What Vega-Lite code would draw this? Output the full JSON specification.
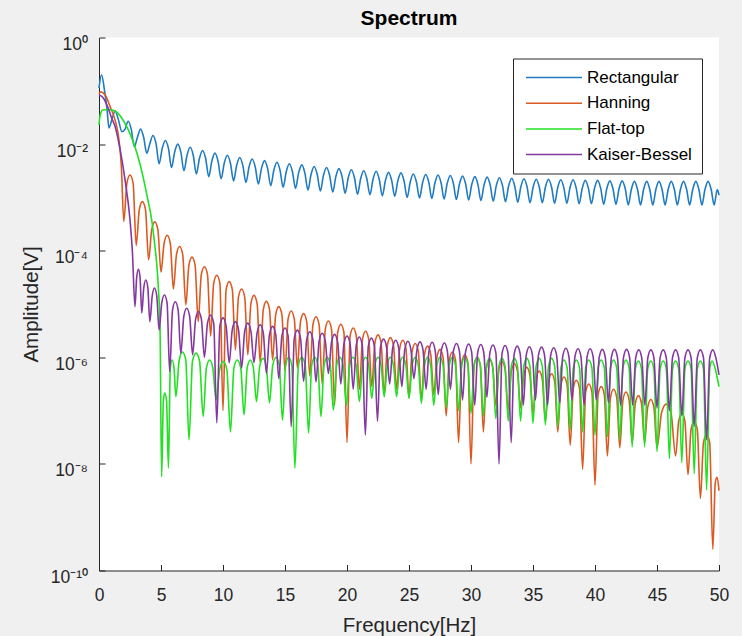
{
"$schema":"https://vega.github.io/schema/vega-lite/v6.json",
"width":620,"height":533,"autosize":"none",
"padding":{"left":99,"top":37.5,"right":23,"bottom":65.5},
"background":"#f0f0f0",
"config":{"font":"Liberation Sans","view":{"fill":"white","stroke":null}},
"title":{"text":"Spectrum","fontSize":21,"fontWeight":"bold","color":"#000000","offset":7},
"datasets":{
"R":[{"f":0,"a":0.112},{"f":0.2,"a":0.2},{"f":0.45,"a":0.1},{"f":0.65,"a":0.0447},{"f":0.8,"a":0.02},
{"f":1.05,"a":0.0295},{"f":1.3,"a":0.0417},{"f":1.55,"a":0.0295},{"f":1.85,"a":0.017},
{"f":2.1,"a":0.0191},{"f":2.35,"a":0.0269},{"f":2.6,"a":0.0191},{"f":2.85,"a":0.00891},
{"f":3.1,"a":0.0135},{"f":3.35,"a":0.0191},{"f":3.6,"a":0.0135},{"f":3.85,"a":0.00676},
{"f":4.1,"a":0.0102},{"f":4.35,"a":0.0145},{"f":4.6,"a":0.0102},{"f":4.85,"a":0.00427},
{"f":5.1,"a":0.00832},{"f":5.35,"a":0.0117},{"f":5.6,"a":0.00832},{"f":5.85,"a":0.00363},
{"f":6.1,"a":0.00708},{"f":6.35,"a":0.01},{"f":6.6,"a":0.00708},{"f":6.85,"a":0.00316},
{"f":7.1,"a":0.00617},{"f":7.35,"a":0.00871},{"f":7.6,"a":0.00617},{"f":7.85,"a":0.00275},
{"f":8.1,"a":0.00537},{"f":8.35,"a":0.00759},{"f":8.6,"a":0.00537},{"f":8.85,"a":0.00245},
{"f":9.1,"a":0.00479},{"f":9.35,"a":0.00676},{"f":9.6,"a":0.00479},{"f":9.85,"a":0.00224},
{"f":10.1,"a":0.00437},{"f":10.35,"a":0.00617},{"f":10.6,"a":0.00437},{"f":10.85,"a":0.00204},
{"f":11.1,"a":0.00398},{"f":11.35,"a":0.00562},{"f":11.6,"a":0.00398},{"f":11.85,"a":0.00191},
{"f":12.1,"a":0.00372},{"f":12.35,"a":0.00525},{"f":12.6,"a":0.00372},{"f":12.85,"a":0.00178},
{"f":13.1,"a":0.00347},{"f":13.35,"a":0.0049},{"f":13.6,"a":0.00347},{"f":13.85,"a":0.00166},
{"f":14.1,"a":0.00324},{"f":14.35,"a":0.00457},{"f":14.6,"a":0.00324},{"f":14.85,"a":0.00155},
{"f":15.1,"a":0.00302},{"f":15.35,"a":0.00427},{"f":15.6,"a":0.00302},{"f":15.85,"a":0.00148},
{"f":16.1,"a":0.00288},{"f":16.35,"a":0.00407},{"f":16.6,"a":0.00288},{"f":16.85,"a":0.00138},
{"f":17.1,"a":0.00269},{"f":17.35,"a":0.0038},{"f":17.6,"a":0.00269},{"f":17.85,"a":0.00132},
{"f":18.1,"a":0.00257},{"f":18.35,"a":0.00363},{"f":18.6,"a":0.00257},{"f":18.85,"a":0.00126},
{"f":19.1,"a":0.00245},{"f":19.35,"a":0.00347},{"f":19.6,"a":0.00245},{"f":19.85,"a":0.0012},
{"f":20.1,"a":0.00234},{"f":20.35,"a":0.00331},{"f":20.6,"a":0.00234},{"f":20.85,"a":0.00115},
{"f":21.1,"a":0.00224},{"f":21.35,"a":0.00316},{"f":21.6,"a":0.00224},{"f":21.85,"a":0.00112},
{"f":22.1,"a":0.00219},{"f":22.35,"a":0.00309},{"f":22.6,"a":0.00219},{"f":22.85,"a":0.00107},
{"f":23.1,"a":0.00209},{"f":23.35,"a":0.00295},{"f":23.6,"a":0.00209},{"f":23.85,"a":0.00105},
{"f":24.1,"a":0.00204},{"f":24.35,"a":0.00288},{"f":24.6,"a":0.00204},{"f":24.85,"a":0.001},
{"f":25.1,"a":0.00195},{"f":25.35,"a":0.00275},{"f":25.6,"a":0.00195},{"f":25.85,"a":0.000977},
{"f":26.1,"a":0.00191},{"f":26.35,"a":0.00269},{"f":26.6,"a":0.00191},{"f":26.84,"a":0.000955},
{"f":27.09,"a":0.00186},{"f":27.34,"a":0.00263},{"f":27.59,"a":0.00186},{"f":27.83,"a":0.000933},
{"f":28.08,"a":0.00182},{"f":28.33,"a":0.00257},{"f":28.58,"a":0.00182},{"f":28.82,"a":0.000912},
{"f":29.07,"a":0.00178},{"f":29.32,"a":0.00251},{"f":29.57,"a":0.00178},{"f":29.81,"a":0.000891},
{"f":30.06,"a":0.00174},{"f":30.31,"a":0.00245},{"f":30.56,"a":0.00174},{"f":30.8,"a":0.000871},
{"f":31.05,"a":0.0017},{"f":31.3,"a":0.0024},{"f":31.55,"a":0.0017},{"f":31.79,"a":0.000851},
{"f":32.04,"a":0.00166},{"f":32.29,"a":0.00234},{"f":32.54,"a":0.00166},{"f":32.78,"a":0.000832},
{"f":33.03,"a":0.00162},{"f":33.28,"a":0.00229},{"f":33.53,"a":0.00162},{"f":33.77,"a":0.000813},
{"f":34.02,"a":0.00158},{"f":34.27,"a":0.00224},{"f":34.52,"a":0.00158},{"f":34.76,"a":0.000794},
{"f":35.01,"a":0.00155},{"f":35.26,"a":0.00219},{"f":35.51,"a":0.00155},{"f":35.75,"a":0.000794},
{"f":36.0,"a":0.00155},{"f":36.25,"a":0.00219},{"f":36.5,"a":0.00155},{"f":36.74,"a":0.000776},
{"f":36.99,"a":0.00151},{"f":37.24,"a":0.00214},{"f":37.49,"a":0.00151},{"f":37.73,"a":0.000776},
{"f":37.98,"a":0.00151},{"f":38.23,"a":0.00214},{"f":38.48,"a":0.00151},{"f":38.72,"a":0.000759},
{"f":38.97,"a":0.00148},{"f":39.22,"a":0.00209},{"f":39.47,"a":0.00148},{"f":39.71,"a":0.000759},
{"f":39.96,"a":0.00148},{"f":40.21,"a":0.00209},{"f":40.46,"a":0.00148},{"f":40.7,"a":0.000741},
{"f":40.95,"a":0.00145},{"f":41.2,"a":0.00204},{"f":41.45,"a":0.00145},{"f":41.69,"a":0.000741},
{"f":41.94,"a":0.00145},{"f":42.19,"a":0.00204},{"f":42.44,"a":0.00145},{"f":42.68,"a":0.000724},
{"f":42.93,"a":0.00141},{"f":43.18,"a":0.002},{"f":43.43,"a":0.00141},{"f":43.67,"a":0.000724},
{"f":43.92,"a":0.00141},{"f":44.17,"a":0.002},{"f":44.42,"a":0.00141},{"f":44.66,"a":0.000724},
{"f":44.91,"a":0.00141},{"f":45.16,"a":0.002},{"f":45.41,"a":0.00141},{"f":45.65,"a":0.000724},
{"f":45.9,"a":0.00141},{"f":46.15,"a":0.002},{"f":46.4,"a":0.00141},{"f":46.64,"a":0.000724},
{"f":46.89,"a":0.00141},{"f":47.14,"a":0.002},{"f":47.39,"a":0.00141},{"f":47.63,"a":0.000724},
{"f":47.88,"a":0.00141},{"f":48.13,"a":0.002},{"f":48.38,"a":0.00141},{"f":48.62,"a":0.000724},
{"f":48.87,"a":0.00141},{"f":49.12,"a":0.002},{"f":49.37,"a":0.00141},{"f":49.61,"a":0.000724},
{"f":49.86,"a":0.00141},{"f":50,"a":0.0011}],
"H":[{"f":0,"a":0.089},{"f":0.15,"a":0.0955},{"f":0.5,"a":0.0832},{"f":0.9,"a":0.05},{"f":1.3,"a":0.0282},{"f":1.6,"a":0.0126},{"f":1.8,"a":0.00398},{"f":2,"a":3.55e-4},
{"f":2.25,"a":1.86e-3},{"f":2.5,"a":2.63e-3},{"f":2.75,"a":1.86e-3},{"f":3,"a":1.26e-4},
{"f":3.25,"a":5.89e-4},{"f":3.5,"a":8.32e-4},{"f":3.75,"a":5.89e-4},{"f":4,"a":6.76e-5},
{"f":4.25,"a":2.45e-4},{"f":4.5,"a":3.47e-4},{"f":4.75,"a":2.45e-4},{"f":5,"a":3.98e-5},
{"f":5.25,"a":1.38e-4},{"f":5.5,"a":1.95e-4},{"f":5.75,"a":1.38e-4},{"f":6,"a":1.91e-5},
{"f":6.25,"a":8.51e-5},{"f":6.5,"a":1.2e-4},{"f":6.75,"a":8.51e-5},{"f":7,"a":9.55e-6},
{"f":7.25,"a":5.37e-5},{"f":7.5,"a":7.59e-5},{"f":7.75,"a":5.37e-5},{"f":8,"a":4.68e-6},
{"f":8.25,"a":3.55e-5},{"f":8.5,"a":5.01e-5},{"f":8.75,"a":3.55e-5},{"f":9,"a":2.51e-6},
{"f":9.25,"a":2.45e-5},{"f":9.5,"a":3.47e-5},{"f":9.75,"a":2.45e-5},{"f":10,"a":1e-7},
{"f":10.25,"a":1.86e-5},{"f":10.5,"a":2.63e-5},{"f":10.75,"a":1.86e-5},{"f":11,"a":1.38e-6},
{"f":11.25,"a":1.35e-5},{"f":11.5,"a":1.91e-5},{"f":11.75,"a":1.35e-5},{"f":12,"a":1.12e-6},
{"f":12.25,"a":1.02e-5},{"f":12.5,"a":1.45e-5},{"f":12.75,"a":1.02e-5},{"f":13,"a":7.94e-7},
{"f":13.25,"a":7.94e-6},{"f":13.5,"a":1.12e-5},{"f":13.75,"a":7.94e-6},{"f":14,"a":8.91e-7},
{"f":14.25,"a":6.31e-6},{"f":14.5,"a":8.91e-6},{"f":14.75,"a":6.31e-6},{"f":15,"a":5.62e-7},
{"f":15.25,"a":5.25e-6},{"f":15.5,"a":7.41e-6},{"f":15.75,"a":5.25e-6},{"f":16,"a":6.31e-7},
{"f":16.25,"a":4.68e-6},{"f":16.5,"a":6.61e-6},{"f":16.75,"a":4.68e-6},{"f":17,"a":4.47e-7},
{"f":17.25,"a":4.07e-6},{"f":17.5,"a":5.75e-6},{"f":17.75,"a":4.07e-6},{"f":18,"a":3.16e-7},
{"f":18.25,"a":3.39e-6},{"f":18.5,"a":4.79e-6},{"f":18.75,"a":3.39e-6},{"f":19,"a":1.26e-7},
{"f":19.25,"a":2.95e-6},{"f":19.5,"a":4.17e-6},{"f":19.75,"a":2.95e-6},{"f":20,"a":2.51e-8},
{"f":20.25,"a":2.51e-6},{"f":20.5,"a":3.55e-6},{"f":20.75,"a":2.51e-6},{"f":21,"a":2.51e-7},
{"f":21.25,"a":2.19e-6},{"f":21.5,"a":3.09e-6},{"f":21.75,"a":2.19e-6},{"f":22,"a":2.82e-7},
{"f":22.25,"a":1.86e-6},{"f":22.5,"a":2.63e-6},{"f":22.75,"a":1.86e-6},{"f":23,"a":2e-7},
{"f":23.25,"a":1.66e-6},{"f":23.5,"a":2.34e-6},{"f":23.75,"a":1.66e-6},{"f":24,"a":2.51e-7},
{"f":24.25,"a":1.48e-6},{"f":24.5,"a":2.09e-6},{"f":24.75,"a":1.48e-6},{"f":25,"a":1.78e-7},
{"f":25.25,"a":1.29e-6},{"f":25.5,"a":1.82e-6},{"f":25.75,"a":1.29e-6},{"f":26,"a":1.58e-7},
{"f":26.25,"a":1.15e-6},{"f":26.5,"a":1.62e-6},{"f":26.75,"a":1.15e-6},{"f":27,"a":2e-7},
{"f":27.25,"a":1e-6},{"f":27.5,"a":1.41e-6},{"f":27.75,"a":1e-6},{"f":28,"a":7.94e-8},
{"f":28.25,"a":8.91e-7},{"f":28.5,"a":1.26e-6},{"f":28.75,"a":8.91e-7},{"f":29,"a":2.51e-8},
{"f":29.25,"a":7.94e-7},{"f":29.5,"a":1.12e-6},{"f":29.75,"a":7.94e-7},{"f":30,"a":1e-8},
{"f":30.25,"a":7.08e-7},{"f":30.5,"a":1e-6},{"f":30.75,"a":7.08e-7},{"f":31,"a":3.98e-8},
{"f":31.25,"a":6.46e-7},{"f":31.5,"a":9.12e-7},{"f":31.75,"a":6.46e-7},{"f":32,"a":1.26e-7},
{"f":32.25,"a":5.89e-7},{"f":32.5,"a":8.32e-7},{"f":32.75,"a":5.89e-7},{"f":33,"a":1e-7},
{"f":33.25,"a":5.37e-7},{"f":33.5,"a":7.59e-7},{"f":33.75,"a":5.37e-7},{"f":34,"a":1.12e-7},
{"f":34.25,"a":4.57e-7},{"f":34.5,"a":6.46e-7},{"f":34.75,"a":4.57e-7},{"f":35,"a":8.91e-8},
{"f":35.25,"a":3.89e-7},{"f":35.5,"a":5.5e-7},{"f":35.75,"a":3.89e-7},{"f":36,"a":6.31e-8},
{"f":36.25,"a":3.47e-7},{"f":36.5,"a":4.9e-7},{"f":36.75,"a":3.47e-7},{"f":37,"a":3.98e-8},
{"f":37.25,"a":3.02e-7},{"f":37.5,"a":4.27e-7},{"f":37.75,"a":3.02e-7},{"f":38,"a":2.24e-8},
{"f":38.25,"a":2.63e-7},{"f":38.5,"a":3.72e-7},{"f":38.75,"a":2.63e-7},{"f":39,"a":7.94e-9},
{"f":39.25,"a":2.24e-7},{"f":39.5,"a":3.16e-7},{"f":39.75,"a":2.24e-7},{"f":40,"a":3.98e-9},
{"f":40.25,"a":2e-7},{"f":40.5,"a":2.82e-7},{"f":40.75,"a":2e-7},{"f":41,"a":1.41e-8},
{"f":41.25,"a":1.78e-7},{"f":41.5,"a":2.51e-7},{"f":41.75,"a":1.78e-7},{"f":42,"a":2e-8},
{"f":42.25,"a":1.58e-7},{"f":42.5,"a":2.24e-7},{"f":42.75,"a":1.58e-7},{"f":43,"a":2.51e-8},
{"f":43.25,"a":1.35e-7},{"f":43.5,"a":1.91e-7},{"f":43.75,"a":1.35e-7},{"f":44,"a":2.51e-8},
{"f":44.25,"a":1.15e-7},{"f":44.5,"a":1.62e-7},{"f":44.75,"a":1.15e-7},{"f":45,"a":2e-8},
{"f":45.375,"a":9.33e-8},{"f":45.75,"a":1.32e-7},{"f":46.125,"a":9.33e-8},{"f":46.5,"a":1.41e-8},
{"f":46.75,"a":6.31e-8},{"f":47,"a":8.91e-8},{"f":47.25,"a":6.31e-8},{"f":47.5,"a":6.31e-9},
{"f":47.75,"a":4.47e-8},{"f":48,"a":6.31e-8},{"f":48.25,"a":4.47e-8},{"f":48.5,"a":2.24e-9},
{"f":48.75,"a":2.51e-8},{"f":49,"a":3.55e-8},{"f":49.25,"a":2.51e-8},{"f":49.5,"a":2.51e-10},
{"f":49.7,"a":4.47e-9},{"f":49.85,"a":5.62e-9},{"f":50,"a":3.16e-9}],
"F":[{"f":0,"a":0.0229},{"f":0.1,"a":0.0355},{"f":0.3,"a":0.0437},{"f":0.8,"a":0.0447},{"f":1.3,"a":0.0417},{"f":1.83,"a":0.0309},{"f":2.3,"a":0.02},{"f":2.7,"a":0.012},{"f":3.1,"a":0.00631},{"f":3.55,"a":0.00245},{"f":3.9,"a":0.001},{"f":4.25,"a":3.8e-4},{"f":4.5,"a":1.26e-4},{"f":4.65,"a":5.89e-5},{"f":4.8,"a":1.78e-5},{"f":4.92,"a":3.98e-6},{"f":5.05,"a":5.75e-9},
{"f":5.19,"a":1.51e-7},{"f":5.3,"a":2.14e-7},{"f":5.45,"a":1.51e-7},{"f":5.6,"a":8.32e-9},
{"f":5.75,"a":6.31e-7},{"f":5.9,"a":8.91e-7},{"f":6.05,"a":6.31e-7},{"f":6.2,"a":1.82e-7},
{"f":6.47,"a":8.91e-7},{"f":6.73,"a":1.26e-6},{"f":7.0,"a":8.91e-7},{"f":7.26,"a":2.82e-8},
{"f":7.54,"a":8.51e-7},{"f":7.83,"a":1.2e-6},{"f":8.11,"a":8.51e-7},{"f":8.4,"a":7.76e-8},
{"f":8.66,"a":6.31e-7},{"f":8.92,"a":8.91e-7},{"f":9.18,"a":6.31e-7},{"f":9.44,"a":1.58e-7},
{"f":9.73,"a":5.89e-7},{"f":10.02,"a":8.32e-7},{"f":10.31,"a":5.89e-7},{"f":10.6,"a":3.98e-8},
{"f":10.88,"a":6.31e-7},{"f":11.15,"a":8.91e-7},{"f":11.43,"a":6.31e-7},{"f":11.7,"a":8.32e-8},
{"f":11.95,"a":6.31e-7},{"f":12.2,"a":8.91e-7},{"f":12.45,"a":6.31e-7},{"f":12.7,"a":1.48e-7},
{"f":12.96,"a":6.76e-7},{"f":13.23,"a":9.55e-7},{"f":13.49,"a":6.76e-7},{"f":13.75,"a":1.41e-7},
{"f":14.01,"a":7.08e-7},{"f":14.28,"a":1e-6},{"f":14.54,"a":7.08e-7},{"f":14.8,"a":6.61e-8},
{"f":15.05,"a":7.08e-7},{"f":15.3,"a":1e-6},{"f":15.55,"a":7.08e-7},{"f":15.8,"a":8.32e-9},
{"f":16.08,"a":7.08e-7},{"f":16.35,"a":1e-6},{"f":16.63,"a":7.08e-7},{"f":16.9,"a":3.8e-8},
{"f":17.15,"a":7.08e-7},{"f":17.4,"a":1e-6},{"f":17.65,"a":7.08e-7},{"f":17.9,"a":7.76e-8},
{"f":18.15,"a":7.08e-7},{"f":18.4,"a":1e-6},{"f":18.65,"a":7.08e-7},{"f":18.9,"a":1.02e-7},
{"f":19.16,"a":7.08e-7},{"f":19.43,"a":1e-6},{"f":19.69,"a":7.08e-7},{"f":19.95,"a":1.26e-7},
{"f":20.21,"a":7.08e-7},{"f":20.48,"a":1e-6},{"f":20.74,"a":7.08e-7},{"f":21,"a":1.48e-7},
{"f":21.25,"a":7.08e-7},{"f":21.5,"a":1e-6},{"f":21.75,"a":7.08e-7},{"f":22,"a":1.7e-7},
{"f":22.25,"a":7.08e-7},{"f":22.5,"a":1e-6},{"f":22.75,"a":7.08e-7},{"f":23,"a":1.82e-7},
{"f":23.25,"a":7.08e-7},{"f":23.5,"a":1e-6},{"f":23.75,"a":7.08e-7},{"f":24,"a":1.82e-7},
{"f":24.25,"a":7.08e-7},{"f":24.5,"a":1e-6},{"f":24.75,"a":7.08e-7},{"f":25,"a":1.7e-7},
{"f":25.25,"a":7.08e-7},{"f":25.5,"a":1e-6},{"f":25.75,"a":7.08e-7},{"f":26,"a":1.38e-7},
{"f":26.25,"a":7.08e-7},{"f":26.5,"a":1e-6},{"f":26.75,"a":7.08e-7},{"f":27,"a":1.26e-7},
{"f":27.25,"a":7.08e-7},{"f":27.5,"a":1e-6},{"f":27.75,"a":7.08e-7},{"f":28,"a":1.12e-7},
{"f":28.25,"a":7.08e-7},{"f":28.5,"a":1e-6},{"f":28.75,"a":7.08e-7},{"f":29,"a":1e-7},
{"f":29.25,"a":7.08e-7},{"f":29.5,"a":1e-6},{"f":29.75,"a":7.08e-7},{"f":30,"a":8.91e-8},
{"f":30.25,"a":7.08e-7},{"f":30.5,"a":1e-6},{"f":30.75,"a":7.08e-7},{"f":31,"a":7.94e-8},
{"f":31.25,"a":6.76e-7},{"f":31.5,"a":9.55e-7},{"f":31.75,"a":6.76e-7},{"f":32,"a":7.08e-8},
{"f":32.25,"a":6.76e-7},{"f":32.5,"a":9.55e-7},{"f":32.75,"a":6.76e-7},{"f":33,"a":6.31e-8},
{"f":33.25,"a":6.76e-7},{"f":33.5,"a":9.55e-7},{"f":33.75,"a":6.76e-7},{"f":34,"a":6.31e-8},
{"f":34.25,"a":6.76e-7},{"f":34.5,"a":9.55e-7},{"f":34.75,"a":6.76e-7},{"f":35,"a":5.75e-8},
{"f":35.25,"a":6.76e-7},{"f":35.5,"a":9.55e-7},{"f":35.75,"a":6.76e-7},{"f":36,"a":5.37e-8},
{"f":36.25,"a":6.76e-7},{"f":36.5,"a":9.55e-7},{"f":36.75,"a":6.76e-7},{"f":37,"a":5.01e-8},
{"f":37.25,"a":6.31e-7},{"f":37.5,"a":8.91e-7},{"f":37.75,"a":6.31e-7},{"f":38,"a":4.37e-8},
{"f":38.25,"a":6.31e-7},{"f":38.5,"a":8.91e-7},{"f":38.75,"a":6.31e-7},{"f":39,"a":3.98e-8},
{"f":39.25,"a":6.31e-7},{"f":39.5,"a":8.91e-7},{"f":39.75,"a":6.31e-7},{"f":40,"a":3.47e-8},
{"f":40.25,"a":6.31e-7},{"f":40.5,"a":8.91e-7},{"f":40.75,"a":6.31e-7},{"f":41,"a":3.24e-8},
{"f":41.25,"a":6.31e-7},{"f":41.5,"a":8.91e-7},{"f":41.75,"a":6.31e-7},{"f":42,"a":2.82e-8},
{"f":42.25,"a":6.31e-7},{"f":42.5,"a":8.91e-7},{"f":42.75,"a":6.31e-7},{"f":43,"a":2.09e-8},
{"f":43.25,"a":6.03e-7},{"f":43.5,"a":8.51e-7},{"f":43.75,"a":6.03e-7},{"f":44,"a":2.09e-8},
{"f":44.25,"a":6.03e-7},{"f":44.5,"a":8.51e-7},{"f":44.75,"a":6.03e-7},{"f":45,"a":1.7e-8},
{"f":45.25,"a":6.03e-7},{"f":45.5,"a":8.51e-7},{"f":45.75,"a":6.03e-7},{"f":46,"a":1.26e-8},
{"f":46.25,"a":6.03e-7},{"f":46.5,"a":8.51e-7},{"f":46.75,"a":6.03e-7},{"f":47,"a":1.05e-8},
{"f":47.25,"a":6.03e-7},{"f":47.5,"a":8.51e-7},{"f":47.75,"a":6.03e-7},{"f":48,"a":6.61e-9},
{"f":48.25,"a":6.03e-7},{"f":48.5,"a":8.51e-7},{"f":48.75,"a":6.03e-7},{"f":49,"a":3.24e-9},
{"f":49.25,"a":6.03e-7},{"f":49.45,"a":8.51e-7},{"f":49.7,"a":6.03e-7},{"f":50,"a":2.82e-7}],
"K":[{"f":0,"a":0.0832},{"f":0.3,"a":0.0759},{"f":0.7,"a":0.05},{"f":1.0,"a":0.0316},{"f":1.3,"a":0.0214},{"f":1.7,"a":0.00794},{"f":2.1,"a":0.00214},{"f":2.5,"a":3.8e-4},{"f":2.7,"a":8.9e-5},{"f":2.9,"a":8.91e-6},
{"f":3.04,"a":3.16e-5},{"f":3.175,"a":4.47e-5},{"f":3.31,"a":3.16e-5},{"f":3.45,"a":6.76e-6},
{"f":3.61,"a":2e-5},{"f":3.775,"a":2.82e-5},{"f":3.94,"a":2e-5},{"f":4.1,"a":4.68e-6},
{"f":4.29,"a":1.41e-5},{"f":4.475,"a":2e-5},{"f":4.66,"a":1.41e-5},{"f":4.85,"a":3.24e-6},
{"f":5.06,"a":1.05e-5},{"f":5.275,"a":1.48e-5},{"f":5.49,"a":1.05e-5},{"f":5.7,"a":5.37e-7},
{"f":5.93,"a":7.76e-6},{"f":6.15,"a":1.1e-5},{"f":6.38,"a":7.76e-6},{"f":6.6,"a":1.17e-6},
{"f":6.84,"a":5.89e-6},{"f":7.075,"a":8.32e-6},{"f":7.31,"a":5.89e-6},{"f":7.55,"a":1.12e-6},
{"f":7.79,"a":5.13e-6},{"f":8.025,"a":7.24e-6},{"f":8.26,"a":5.13e-6},{"f":8.5,"a":1e-6},
{"f":8.75,"a":4.37e-6},{"f":9.0,"a":6.17e-6},{"f":9.25,"a":4.37e-6},{"f":9.5,"a":5.89e-8},
{"f":9.75,"a":3.89e-6},{"f":10,"a":5.5e-6},{"f":10.25,"a":3.89e-6},{"f":10.5,"a":7.94e-7},
{"f":10.75,"a":3.31e-6},{"f":11,"a":4.68e-6},{"f":11.25,"a":3.31e-6},{"f":11.5,"a":6.31e-7},
{"f":11.75,"a":3.09e-6},{"f":12,"a":4.37e-6},{"f":12.25,"a":3.09e-6},{"f":12.5,"a":7.94e-7},
{"f":12.75,"a":2.88e-6},{"f":13,"a":4.07e-6},{"f":13.25,"a":2.88e-6},{"f":13.5,"a":5.01e-7},
{"f":13.75,"a":2.69e-6},{"f":14,"a":3.8e-6},{"f":14.25,"a":2.69e-6},{"f":14.5,"a":3.98e-7},
{"f":14.75,"a":2.51e-6},{"f":15,"a":3.55e-6},{"f":15.25,"a":2.51e-6},{"f":15.5,"a":5.01e-8},
{"f":15.75,"a":2.29e-6},{"f":16,"a":3.24e-6},{"f":16.25,"a":2.29e-6},{"f":16.5,"a":3.55e-7},
{"f":16.75,"a":2.14e-6},{"f":17,"a":3.02e-6},{"f":17.25,"a":2.14e-6},{"f":17.5,"a":3.47e-7},
{"f":17.75,"a":2e-6},{"f":18,"a":2.82e-6},{"f":18.25,"a":2e-6},{"f":18.5,"a":5.01e-7},
{"f":18.75,"a":1.91e-6},{"f":19,"a":2.69e-6},{"f":19.25,"a":1.91e-6},{"f":19.5,"a":3.16e-7},
{"f":19.75,"a":1.78e-6},{"f":20,"a":2.51e-6},{"f":20.25,"a":1.78e-6},{"f":20.5,"a":2.51e-7},
{"f":20.75,"a":1.7e-6},{"f":20.99,"a":2.4e-6},{"f":21.23,"a":1.7e-6},{"f":21.48,"a":3.47e-8},
{"f":21.72,"a":1.62e-6},{"f":21.97,"a":2.29e-6},{"f":22.21,"a":1.62e-6},{"f":22.46,"a":6.31e-8},
{"f":22.7,"a":1.55e-6},{"f":22.95,"a":2.19e-6},{"f":23.19,"a":1.55e-6},{"f":23.44,"a":3.16e-7},
{"f":23.68,"a":1.48e-6},{"f":23.93,"a":2.09e-6},{"f":24.17,"a":1.48e-6},{"f":24.42,"a":2.82e-7},
{"f":24.66,"a":1.41e-6},{"f":24.91,"a":2e-6},{"f":25.15,"a":1.41e-6},{"f":25.4,"a":3.98e-7},
{"f":25.64,"a":1.38e-6},{"f":25.89,"a":1.95e-6},{"f":26.13,"a":1.38e-6},{"f":26.38,"a":2.51e-7},
{"f":26.62,"a":1.35e-6},{"f":26.87,"a":1.91e-6},{"f":27.11,"a":1.35e-6},{"f":27.36,"a":2e-7},
{"f":27.6,"a":1.32e-6},{"f":27.85,"a":1.86e-6},{"f":28.09,"a":1.32e-6},{"f":28.34,"a":2.51e-7},
{"f":28.58,"a":1.29e-6},{"f":28.83,"a":1.82e-6},{"f":29.07,"a":1.29e-6},{"f":29.32,"a":1.58e-7},
{"f":29.56,"a":1.26e-6},{"f":29.81,"a":1.78e-6},{"f":30.05,"a":1.26e-6},{"f":30.3,"a":1.26e-7},
{"f":30.54,"a":1.23e-6},{"f":30.79,"a":1.74e-6},{"f":31.03,"a":1.23e-6},{"f":31.28,"a":1.78e-7},
{"f":31.52,"a":1.2e-6},{"f":31.77,"a":1.7e-6},{"f":32.01,"a":1.2e-6},{"f":32.26,"a":1e-8},
{"f":32.5,"a":1.17e-6},{"f":32.75,"a":1.66e-6},{"f":32.99,"a":1.17e-6},{"f":33.24,"a":2.51e-8},
{"f":33.48,"a":1.15e-6},{"f":33.73,"a":1.62e-6},{"f":33.97,"a":1.15e-6},{"f":34.22,"a":1.26e-7},
{"f":34.46,"a":1.12e-6},{"f":34.71,"a":1.58e-6},{"f":34.95,"a":1.12e-6},{"f":35.2,"a":1.58e-7},
{"f":35.44,"a":1.1e-6},{"f":35.69,"a":1.55e-6},{"f":35.93,"a":1.1e-6},{"f":36.18,"a":1.26e-7},
{"f":36.42,"a":1.07e-6},{"f":36.67,"a":1.51e-6},{"f":36.91,"a":1.07e-6},{"f":37.16,"a":1.41e-7},
{"f":37.4,"a":1.05e-6},{"f":37.65,"a":1.48e-6},{"f":37.89,"a":1.05e-6},{"f":38.14,"a":1.58e-7},
{"f":38.38,"a":1.02e-6},{"f":38.63,"a":1.45e-6},{"f":38.87,"a":1.02e-6},{"f":39.12,"a":1.26e-7},
{"f":39.36,"a":1.02e-6},{"f":39.61,"a":1.45e-6},{"f":39.85,"a":1.02e-6},{"f":40.1,"a":1.58e-7},
{"f":40.34,"a":1e-6},{"f":40.59,"a":1.41e-6},{"f":40.83,"a":1e-6},{"f":41.08,"a":1.41e-7},
{"f":41.32,"a":1e-6},{"f":41.57,"a":1.41e-6},{"f":41.81,"a":1e-6},{"f":42.06,"a":1.26e-7},
{"f":42.3,"a":1e-6},{"f":42.55,"a":1.41e-6},{"f":42.79,"a":1e-6},{"f":43.04,"a":1.26e-7},
{"f":43.28,"a":9.77e-7},{"f":43.53,"a":1.38e-6},{"f":43.77,"a":9.77e-7},{"f":44.02,"a":1.26e-7},
{"f":44.26,"a":9.77e-7},{"f":44.51,"a":1.38e-6},{"f":44.75,"a":9.77e-7},{"f":45,"a":1.12e-7},
{"f":45.25,"a":9.77e-7},{"f":45.5,"a":1.38e-6},{"f":45.75,"a":9.77e-7},{"f":46,"a":1e-7},
{"f":46.25,"a":9.77e-7},{"f":46.5,"a":1.38e-6},{"f":46.75,"a":9.77e-7},{"f":47,"a":7.94e-8},
{"f":47.25,"a":9.77e-7},{"f":47.5,"a":1.38e-6},{"f":47.75,"a":9.77e-7},{"f":48,"a":5.01e-8},
{"f":48.25,"a":9.77e-7},{"f":48.5,"a":1.38e-6},{"f":48.75,"a":9.77e-7},{"f":49,"a":2.82e-8},
{"f":49.25,"a":9.77e-7},{"f":49.5,"a":1.38e-6},{"f":49.75,"a":9.77e-7},{"f":50,"a":4.68e-7}]
},
"encoding":{
"x":{"field":"f","type":"quantitative","scale":{"domain":[0,50],"nice":false,"zero":false},
"axis":{"values":[0,5,10,15,20,25,30,35,40,45,50],"title":"Frequency[Hz]","grid":false,"tickSize":-6,"labelPadding":22,"labelFlush":false,"labelOverlap":false,"labelFontSize":17.5,"labelColor":"#262626","domainColor":"#262626","tickColor":"#262626","titleFontSize":20.5,"titleFontWeight":"normal","titleColor":"#262626","titlePadding":11}},
"y":{"field":"a","type":"quantitative","scale":{"type":"log","domain":[1e-10,1],"nice":false},
"axis":{"values":[1,0.01,0.0001,1e-6,1e-8,1e-10],"title":"Amplitude[V]","grid":false,"tickSize":-6,"labelPadding":17.5,"labelOffset":7,"labelFlush":false,"labelOverlap":false,"labelFontSize":17.5,"labelColor":"#262626","domainColor":"#262626","tickColor":"#262626","titleFontSize":20.5,"titleFontWeight":"normal","titleColor":"#262626","titlePadding":9,
"labelExpr":"datum.value >= 0.5 ? '10⁰' : datum.value >= 0.005 ? '10⁻²' : datum.value >= 0.00005 ? '10⁻⁴' : datum.value >= 5e-7 ? '10⁻⁶' : datum.value >= 5e-9 ? '10⁻⁸' : '10⁻¹⁰'"}}
},
"layer":[
{"data":{"name":"R"},"mark":{"type":"line","interpolate":"monotone","strokeWidth":1.6},
"encoding":{"color":{"datum":"Rectangular","scale":{"domain":["Rectangular","Hanning","Flat-top","Kaiser-Bessel"],"range":["#1f7bc2","#dc5a22","#22e022","#8438a0"]},
"legend":{"orient":"none","legendX":414,"legendY":21,"title":null,"symbolType":"M-3.5,0H3.5","symbolSize":256,"symbolStrokeWidth":1.5,"labelFontSize":17,"labelColor":"#000000","padding":10,"rowPadding":8.7,"strokeColor":"#262626","fillColor":"white","symbolOffset":22,"labelOffset":24}}}},
{"data":{"name":"H"},"mark":{"type":"line","interpolate":"monotone","strokeWidth":1.6},"encoding":{"color":{"datum":"Hanning"}}},
{"data":{"name":"F"},"mark":{"type":"line","interpolate":"monotone","strokeWidth":1.6},"encoding":{"color":{"datum":"Flat-top"}}},
{"data":{"name":"K"},"mark":{"type":"line","interpolate":"monotone","strokeWidth":1.6},"encoding":{"color":{"datum":"Kaiser-Bessel"}}}
]
}
